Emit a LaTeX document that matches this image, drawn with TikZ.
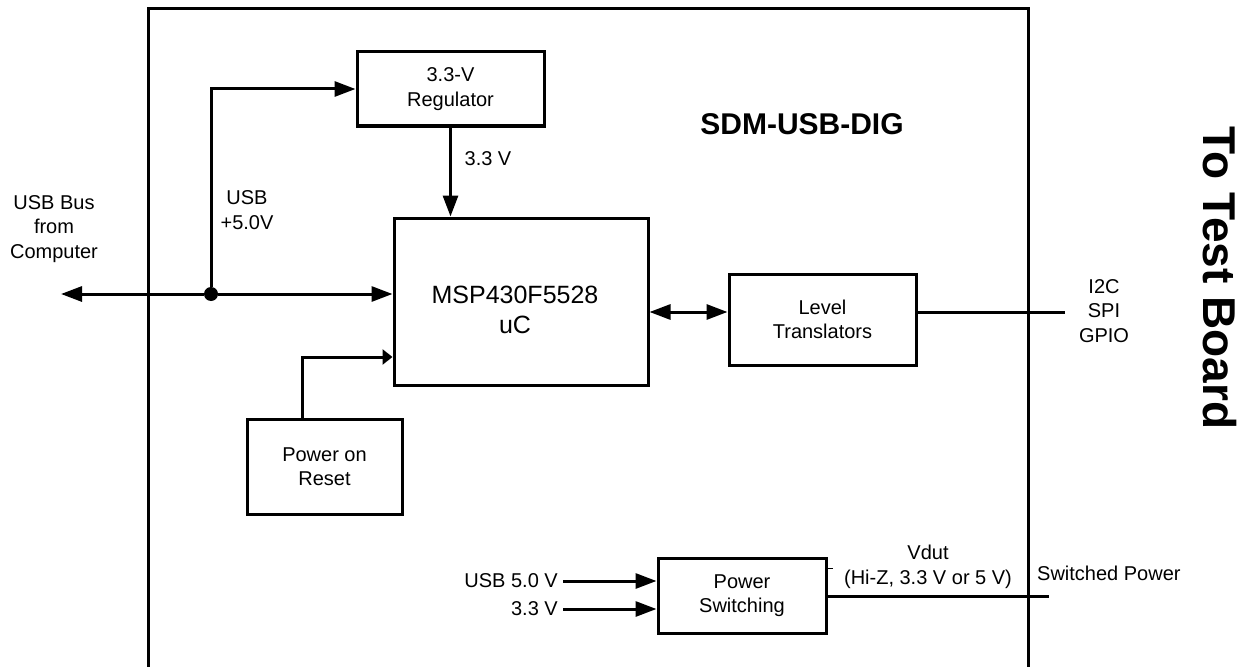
\documentclass[tikz,border=0pt]{standalone}
\usepackage{fontspec}
\setmainfont{Liberation Sans}
\usetikzlibrary{arrows.meta}
\newcommand{\ntxt}{\fontsize{20}{24.5}\selectfont}
\newcommand{\mtxt}{\fontsize{25}{30}\selectfont}
\begin{document}
\begin{tikzpicture}[x=1pt,y=-1pt,
  box/.style={draw,line width=3pt,align=center,font=\ntxt,inner sep=0pt},
  lbl/.style={align=center,font=\ntxt,inner sep=0pt},
  wire/.style={line width=3pt},
  arr/.style={wire,-{Triangle[length=21pt,width=15pt]}},
  arrsmall/.style={wire,-{Triangle[length=10pt,width=15pt]}},
  biarr/.style={wire,{Triangle[length=21pt,width=15pt]}-{Triangle[length=21pt,width=15pt]}},
]
\useasboundingbox (0,0) rectangle (1249,666);
\fill[white] (0,0) rectangle (1249,666);

% outer frame
\draw[wire,line join=miter] (148,672) -- (148,9) -- (1028,9) -- (1028,672);

% blocks
\node[box,minimum width=187pt,minimum height=74pt] (reg) at (450.5,89) {3.3-V\\Regulator};
\node[box,minimum width=254pt,minimum height=167pt] (mcu) at (521,301.5) {};
\node[align=center,font=\mtxt,inner sep=0pt] (mcutxt) at (515,310) {MSP430F5528\\uC};
\node[box,minimum width=187pt,minimum height=91pt] (lvl) at (822.5,319.5) {Level\\Translators};
\node[box,minimum width=155pt,minimum height=95pt] (por) at (324.5,466.5) {Power on\\Reset};
\node[box,minimum width=168pt,minimum height=75pt] (psw) at (742,595.5) {Power\\Switching};

% titles
\node[font=\fontsize{30}{36}\selectfont\bfseries,inner sep=0pt] (title) at (802,124) {SDM-USB-DIG};
\node[font=\fontsize{46}{52}\selectfont\bfseries,inner sep=0pt,rotate=-90] (ttb) at (1219.5,278) {To Test Board};

% labels
\node[lbl] (usbbus) at (54,229) {USB Bus\\from\\Computer};
\node[lbl] (usb5) at (247,210) {USB\\+5.0V};
\node[lbl] (v33) at (488,159) {3.3 V};
\node[lbl] (bus) at (1104,311) {I2C\\SPI\\GPIO};
\node[lbl] (vdut) at (928,567) {Vdut\\(Hi-Z, 3.3 V or 5 V)};
\node[lbl,anchor=west] (swp) at (1037,573) {Switched Power};
\node[lbl,anchor=east] (in5) at (558,581) {USB 5.0 V};
\node[lbl,anchor=east] (in33) at (558,609) {3.3 V};

% helper coordinates
\coordinate (usbL) at (61,294);
\coordinate (busY) at (0,312);
\coordinate (rstY) at (0,357);
\coordinate (outY) at (0,596);
\coordinate (busEnd) at (1065,312);
\coordinate (swEnd) at (1049,596);
\node[circle,fill,inner sep=0pt,minimum size=14pt] (jn) at (211,294) {};

% connectors
\draw[arr] (jn) -- (usbL);
\draw[arr] (jn) -- (mcu.west |- jn);
\draw[arr,line join=miter] (jn) |- (reg.west);
\draw[arr] (reg.south) -- (mcu.north -| reg.south);
\draw[arrsmall,line join=miter] ([xshift=-22.5pt]por.north) |- (mcu.west |- rstY);
\draw[biarr] (mcu.east |- busY) -- (lvl.west |- busY);
\draw[wire] (lvl.east |- busY) -- (busEnd);
\draw[arr] ([xshift=5pt]in5.east) -- (psw.west |- in5.east);
\draw[arr] ([xshift=5pt]in33.east) -- (psw.west |- in33.east);
\draw[wire] (psw.east |- outY) -- (swEnd);
\draw[line width=1pt] (826,568) -- (833,568);
\end{tikzpicture}
\end{document}
